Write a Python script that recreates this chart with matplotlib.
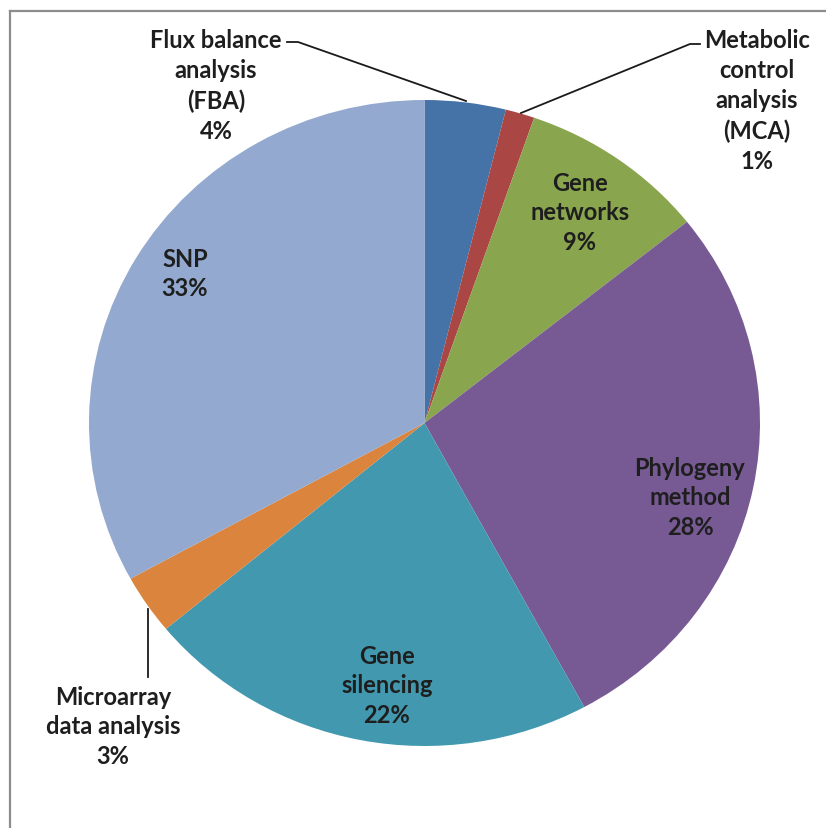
import matplotlib
matplotlib.use("Agg")
import matplotlib.pyplot as plt
from matplotlib.lines import Line2D

# Share of methods (percent), clockwise from 12 o'clock
categories = [
    "Flux balance\nanalysis\n(FBA)",
    "Metabolic\ncontrol\nanalysis\n(MCA)",
    "Gene\nnetworks",
    "Phylogeny\nmethod",
    "Gene\nsilencing",
    "Microarray\ndata analysis",
    "SNP",
]
values = [3.9, 1.4, 9.0, 27.8, 21.9, 3.0, 33.0]
colors = ["#4572A7", "#AA4643", "#89A54E", "#775A93", "#4198AF", "#DB843D", "#93A9CF"]

W, H = 826, 829
fig = plt.figure(figsize=(W / 100, H / 100), dpi=100)
fig.patch.set_facecolor("white")

# pie geometry in pixels (slightly wider than tall)
cx, cy, rx, ry = 424.5, 424.0, 335.5, 323.0

ax = fig.add_axes([0, 0, 1, 1])
ax.pie(values, colors=colors, startangle=90, counterclock=False,
       radius=1.0, center=(0, 0), wedgeprops=dict(linewidth=0))
ax.set_aspect("auto")
ax.set_xlim(-cx / rx, (W - cx) / rx)
ax.set_ylim(-(H - cy) / ry, cy / ry)
ax.axis("off")

# chart frame (top and left edges visible)
frame_col = "#8c8c8c"
fig.add_artist(Line2D([10 / W, 1.0], [1 - 12 / H, 1 - 12 / H],
                      transform=fig.transFigure, color=frame_col, lw=1.6))
fig.add_artist(Line2D([10 / W, 10 / W], [0, 1 - 12 / H],
                      transform=fig.transFigure, color=frame_col, lw=1.6))


def px(x, y):
    return x / W, 1 - y / H


txt_kw = dict(transform=fig.transFigure, ha="center", va="center",
              fontsize=17, fontweight="bold", color="#1e1e1e",
              family=["Lato", "DejaVu Sans"], linespacing=1.36)

label_pos = [
    (216, 86),
    (757, 101),
    (580, 213),
    (690, 498),
    (387, 686),
    (113, 727),
    (185, 274),
]

for name, v, (x, y) in zip(categories, values, label_pos):
    fig.text(*px(x, y), f"{name}\n{v:.0f}%", **txt_kw)

# leader lines
line_kw = dict(transform=fig.transFigure, color="#1a1a1a", lw=1.3)
fa = [px(287, 43), px(298, 43), px(466, 102)]
fig.add_artist(Line2D([p[0] for p in fa], [p[1] for p in fa], **line_kw))
mc = [px(700, 45), px(690, 45), px(521, 114)]
fig.add_artist(Line2D([p[0] for p in mc], [p[1] for p in mc], **line_kw))
mi = [px(148, 610), px(148, 678)]
fig.add_artist(Line2D([p[0] for p in mi], [p[1] for p in mi], **line_kw))

fig.savefig("out.png", dpi=100, facecolor="white")
